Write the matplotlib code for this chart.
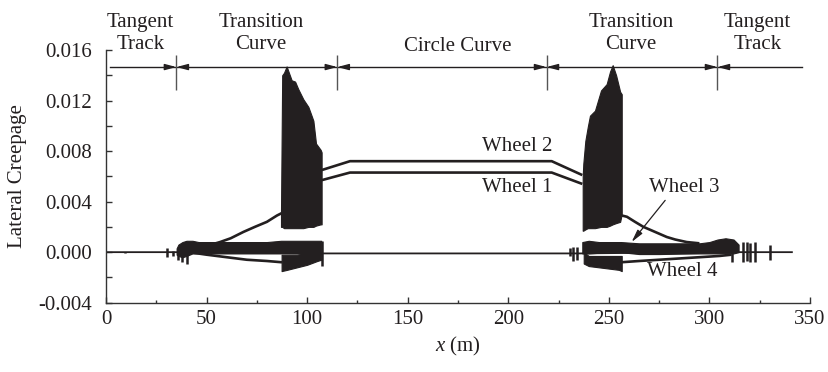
import numpy as np
import matplotlib.pyplot as plt
from matplotlib.ticker import MultipleLocator, FormatStrFormatter

plt.rcParams['font.family'] = ['Liberation Serif', 'DejaVu Serif']
plt.rcParams['mathtext.fontset'] = 'custom'
plt.rcParams['mathtext.it'] = 'Liberation Serif:italic'
plt.rcParams['mathtext.rm'] = 'Liberation Serif'
plt.rcParams['font.size'] = 15

ink = '#231f20'

# track sections (m)
section_bounds = [35, 115, 219, 304]
section_names = ['Tangent\nTrack', 'Transition\nCurve', 'Circle Curve',
                 'Transition\nCurve', 'Tangent\nTrack']
section_label_x = [17, 77, 175, 261, 324]

# all wheels near zero on tangent track and through the circle
base_x = [0, 30, 35, 107, 150, 236, 300, 341]
base_y = [0, 0, 0, -0.0001, -0.0001, -0.0001, 0, 0]

# wheels 1 and 2 together, entering / leaving the transitions
entry_x = [48, 56.7, 62, 68.3, 74, 80, 85, 87.5]
entry_y = [0.0004, 0.0008, 0.0011, 0.0016, 0.0020, 0.0024, 0.0029, 0.0031]
exit_x = [256.5, 259, 263, 267.2, 273, 278.8, 283, 288.7, 295]
exit_y = [0.0029, 0.0028, 0.0024, 0.0020, 0.0016, 0.0012, 0.0010, 0.0008, 0.0007]

# circle curve, wheels 1 and 2 split
circle_x = [107.3, 121.3, 221.6, 236.8]
wheel2_y = [0.0065, 0.0072, 0.0072, 0.0061]
wheel1_y = [0.0057, 0.0063, 0.0063, 0.0054]

# wheel 4 outside the oscillation zones
wheel4_in_x = [42.6, 50, 60, 70, 80, 87.5]
wheel4_in_y = [-0.00003, -0.0002, -0.0004, -0.0006, -0.0007, -0.0008]
wheel4_out_x = [256, 265, 275, 285, 295, 305, 311]
wheel4_out_y = [-0.0008, -0.0007, -0.0006, -0.0005, -0.0004, -0.0003, -0.0002]

# hunting envelopes of wheels 1-2
burst1_x = [87.0, 87.6, 88.5, 89.8, 92.3, 94.0, 95.6, 98.1, 100.6, 102.2, 103.1, 104.4, 106.7, 107.2]
burst1_hi = [0.0031, 0.0140, 0.0142, 0.0147, 0.0136, 0.0135, 0.0129, 0.0121, 0.0115, 0.0108, 0.0104, 0.0086, 0.0081, 0.0079]
burst1_lo = [0.0020, 0.0020, 0.0019, 0.0019, 0.0019, 0.0019, 0.0019, 0.0019, 0.0020, 0.0020, 0.0020, 0.0021, 0.0022, 0.0022]

burst2_x = [237.0, 237.3, 238.3, 239.5, 240.6, 243.1, 246.1, 248.9, 250.6, 251.9, 253.6, 255.6, 256.4]
burst2_hi = [0.0060, 0.0070, 0.0088, 0.0099, 0.0108, 0.0112, 0.0128, 0.0133, 0.0143, 0.0148, 0.0140, 0.0127, 0.0125]
burst2_lo = [0.0017, 0.0017, 0.0018, 0.0019, 0.0019, 0.0019, 0.0020, 0.0020, 0.0021, 0.0022, 0.0023, 0.0024, 0.0030]

# wheel 3 band
band1_x = [35.1, 36, 38, 40, 43, 46, 50, 55, 60, 70, 80, 87, 95, 100, 107]
band1_hi = [0.0003, 0.0006, 0.0008, 0.0009, 0.0009, 0.0008, 0.0008, 0.0008, 0.0008, 0.0008, 0.0008, 0.0009, 0.0009, 0.0009, 0.0009]
band1_lo = [-0.0002, -0.0003, -0.0004, -0.0003, -0.0001, -0.0001, -0.0001, -0.0001, -0.0001, -0.0001, -0.0001, -0.0001, -0.0001, -0.0002, -0.0001]

band2_x = [236.8, 240, 245, 250, 256, 265, 275, 285, 295, 300, 304, 308, 312, 314.5]
band2_hi = [0.0008, 0.0009, 0.0008, 0.0008, 0.0008, 0.0007, 0.0007, 0.0007, 0.0007, 0.0008, 0.0010, 0.0011, 0.0010, 0.0006]
band2_lo = [-0.0001, -0.0001, -0.00005, 0.0, 0.0, -0.00015, -0.00015, -0.00012, -0.0001, -0.0001, -0.0001, -0.0001, -0.0001, 0.0]

# wheel 4 hunting
w4b1_x = [87.3, 90, 95, 100, 105, 107]
w4b1_hi = [-0.0002, -0.0002, -0.0002, -0.0001, 0.0, 0.0]
w4b1_lo = [-0.0015, -0.0014, -0.0012, -0.0010, -0.0007, -0.0006]
w4b2_x = [237.5, 240, 245, 250, 255, 256.4]
w4b2_hi = [0.0, -0.0003, -0.0003, -0.0003, -0.0003, -0.0003]
w4b2_lo = [-0.0009, -0.0011, -0.0012, -0.0013, -0.0014, -0.0015]

# isolated spikes
spike_x = [9.5, 30.2, 33.5, 36.0, 37.6, 40.1, 107.3, 230.7, 232.3, 234.0,
           311.0, 316.9, 318.5, 320.2, 322.7, 330.0]
spike_hi = [0.00005, 0.0003, 0.0001, 0.0003, 0.0005, 0.0006, 0.0009, 0.0003, 0.0004, 0.0004,
            0.0000, 0.0008, 0.0008, 0.0007, 0.0008, 0.0006]
spike_lo = [-0.00005, -0.0004, -0.0003, -0.0006, -0.0008, -0.0009, -0.0011, -0.0003, -0.0007, -0.0006,
            -0.0008, -0.0008, -0.0007, -0.0008, -0.0008, -0.0006]

wheel_labels = ['Wheel 2', 'Wheel 1', 'Wheel 3', 'Wheel 4']
wheel_label_x = [204.6, 204.6, 287.4, 286.6]
wheel_label_y = [0.0084, 0.0051, 0.0051, -0.00153]

fig = plt.figure(figsize=(8.29, 3.72), dpi=100)
ax = fig.add_axes([106 / 829, 69.3 / 372, 704 / 829, 252.7 / 372])

ax.plot(base_x, base_y, color=ink, lw=1.3)
for bx, hi, lo in [(burst1_x, burst1_hi, burst1_lo), (burst2_x, burst2_hi, burst2_lo),
                   (band1_x, band1_hi, band1_lo), (band2_x, band2_hi, band2_lo),
                   (w4b1_x, w4b1_hi, w4b1_lo), (w4b2_x, w4b2_hi, w4b2_lo)]:
    ax.fill_between(bx, lo, hi, color=ink, lw=0.8, edgecolor=ink)
for lx, ly in [(entry_x, entry_y), (exit_x, exit_y), (circle_x, wheel2_y),
               (circle_x, wheel1_y), (wheel4_in_x, wheel4_in_y), (wheel4_out_x, wheel4_out_y)]:
    ax.plot(lx, ly, color=ink, lw=1.9, solid_capstyle='butt')
ax.vlines(spike_x, spike_lo, spike_hi, color=ink, lw=1.8)

for name, x, y in zip(wheel_labels, wheel_label_x, wheel_label_y):
    ax.text(x, y, name, ha='center', va='center', color=ink)
ax.annotate('', xy=(261.3, 0.0008), xytext=(278, 0.0041),
            arrowprops=dict(arrowstyle='-|>,head_length=0.5,head_width=0.12',
                            color=ink, lw=0.9, shrinkA=0, shrinkB=0))

# section bar above the curves
bar_y = 0.01465
ax.plot([2, 346], [bar_y, bar_y], color=ink, lw=1.0, clip_on=False)
ax.vlines(section_bounds, 0.0128, 0.0156, color='#555555', lw=1.0)
for b in section_bounds:
    for side in (-1, 1):
        ax.annotate('', xy=(b, bar_y), xytext=(b + side * 5, bar_y),
                    arrowprops=dict(arrowstyle='-|>,head_length=0.45,head_width=0.12',
                                    color=ink, lw=1.0, shrinkA=0, shrinkB=0))
for name, x in zip(section_names, section_label_x):
    y = 0.0163 if '\n' not in name else 0.0173
    ax.text(x, y, name, ha='center', va='center', color=ink, linespacing=1.2,
            clip_on=False)

ax.set_xlim(0, 350)
ax.set_ylim(-0.004, 0.016)
ax.xaxis.set_major_locator(MultipleLocator(50))
ax.xaxis.set_minor_locator(MultipleLocator(25))
ax.yaxis.set_major_locator(MultipleLocator(0.004))
ax.yaxis.set_minor_locator(MultipleLocator(0.002))
ax.yaxis.set_major_formatter(FormatStrFormatter('%.3f'))
ax.spines['top'].set_visible(False)
ax.spines['right'].set_visible(False)
for s in ('left', 'bottom'):
    ax.spines[s].set_color('#333333')
    ax.spines[s].set_linewidth(1.0)
ax.tick_params(which='both', direction='in', colors='#333333', labelcolor=ink, width=1.0)
ax.tick_params(axis='x', which='major', length=4.5, pad=5)
ax.tick_params(axis='x', which='minor', length=2.5)
ax.tick_params(axis='y', which='major', length=4.5, pad=10)
ax.tick_params(axis='y', which='minor', length=4)

ax.set_xlabel(r'$x$ (m)', color=ink)
ax.xaxis.set_label_coords(0.5, -0.174)
ax.xaxis.label.set_va('center')
ax.text(-0.125, 0.5, 'Lateral Creepage', transform=ax.transAxes, rotation=90,
        ha='center', va='center', color=ink)

fig.savefig('out.png', dpi=100)
